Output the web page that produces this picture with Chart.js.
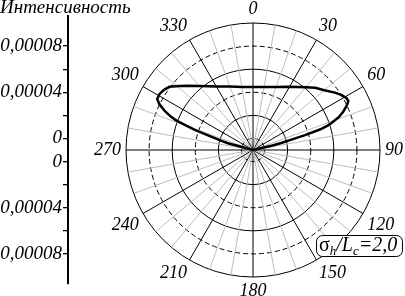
<!DOCTYPE html>
<html><head><meta charset="utf-8">
<style>html,body{margin:0;padding:0;background:#fff;}canvas{display:block;}</style>
</head><body>
<canvas id="c" width="405" height="296"></canvas>
<script src="https://cdn.jsdelivr.net/npm/chart.js@4/dist/chart.umd.min.js"></script>
<script>
// ---------------- data ----------------
const titleText = 'Интенсивность';
const angleTickValues = [0, 30, 60, 90, 120, 150, 180, 210, 240, 270, 300, 330];
const angleTickLabels = ['0', '30', '60', '90', '120', '150', '180', '210', '240', '270', '300', '330'];
// lobe: angle (deg, clockwise from top) and intensity
const lobeAngles = [0, 10, 20, 30, 40, 45, 50, 55, 58, 61, 63, 65, 67, 69, 71, 72, 73, 74, 75, 76, 77, 85,
                    276, 285, 286, 287, 288, 289, 290, 291, 292, 294, 296, 298, 301, 304, 307, 311, 315, 320, 330, 340, 350];
const lobeValues = [4.46e-5, 4.54e-5, 4.80e-5, 5.32e-5, 6.10e-5, 6.62e-5, 7.06e-5, 7.66e-5, 8.01e-5, 8.27e-5, 8.27e-5,
                    7.92e-5, 7.49e-5, 6.97e-5, 6.19e-5, 5.76e-5, 5.06e-5, 3.68e-5, 2.38e-5, 1.51e-5, 0.73e-5, -1.0e-5,
                    -1.0e-5, 1.25e-5, 1.77e-5, 2.29e-5, 2.98e-5, 4.28e-5, 5.15e-5, 6.10e-5, 6.62e-5, 7.40e-5, 8.01e-5,
                    8.40e-5, 8.44e-5, 8.31e-5, 8.09e-5, 7.44e-5, 6.88e-5, 6.23e-5, 5.35e-5, 4.85e-5, 4.54e-5];
const rMin = -0.00001, rMax = 0.0001;
const ringValues = [0, 0.00002, 0.00004, 0.00006, 0.00008, 0.0001];
const ringDashed = [true, false, true, false, true, false];
const axisValues = [0, 0.00002, 0.00004, 0.00006, 0.00008];
const axisLabels = ['0', '', '0,00004', '', '0,00008'];
const axisExtent = 0.000116;
const noteParts = ['σ', 'h', '/L', 'c', '=2,0'];

// ---------------- derived tables ----------------
const labels = [];
const radarData = [];
for (let a = 0; a < 360; a++) {
  const k = angleTickValues.indexOf(a);
  labels.push(k >= 0 ? angleTickLabels[k] : '');
  const j = lobeAngles.indexOf(a);
  radarData.push(j >= 0 ? lobeValues[j] : null);
}
// left axis: upper half (+) and lower half (-) of the radial coordinate
const yTicks = [];
for (let i = axisValues.length - 1; i >= 0; i--) yTicks.push({u: -(axisValues[i] - rMin), text: axisLabels[i]});
for (let i = 0; i < axisValues.length; i++) yTicks.push({u: axisValues[i] - rMin, text: axisLabels[i]});

const SERIF = '"Liberation Serif", "Times New Roman", serif';

const alignAxis = {
  id: 'alignAxis',
  afterLayout(chart) {
    const r = chart.scales.r, y = chart.scales.y;
    const half = r.drawingArea * axisExtent / (rMax - rMin);
    y.top = r.yCenter - half;
    y.bottom = r.yCenter + half;
    y.height = 2 * half;
    y.configure();
  }
};

const notes = {
  id: 'notes',
  afterDraw(chart) {
    const ctx = chart.ctx;
    ctx.save();
    ctx.fillStyle = '#000';
    ctx.textAlign = 'left';
    ctx.textBaseline = 'alphabetic';
    ctx.font = 'italic 19px ' + SERIF;
    ctx.fillText(titleText, 0, 13);
    // annotation box
    const bx = 316.5, by = 235.5, bw = 86, bh = 21, rr = 6;
    ctx.beginPath();
    ctx.moveTo(bx + rr, by);
    ctx.arcTo(bx + bw, by, bx + bw, by + bh, rr);
    ctx.arcTo(bx + bw, by + bh, bx, by + bh, rr);
    ctx.arcTo(bx, by + bh, bx, by, rr);
    ctx.arcTo(bx, by, bx + bw, by, rr);
    ctx.closePath();
    ctx.fillStyle = '#fff';
    ctx.fill();
    ctx.lineWidth = 1;
    ctx.strokeStyle = '#000';
    ctx.stroke();
    ctx.fillStyle = '#000';
    const fonts = ['20px ' + SERIF, 'italic 13px ' + SERIF, 'italic 20px ' + SERIF, 'italic 13px ' + SERIF, 'italic 20px ' + SERIF];
    const dys = [0, 4, 0, 4, 0];
    let x = 319;
    noteParts.forEach((t, i) => {
      ctx.font = fonts[i];
      ctx.fillText(t, x, 251 + dys[i]);
      x += ctx.measureText(t).width;
    });
    ctx.restore();
  }
};

new Chart(document.getElementById('c'), {
  type: 'radar',
  data: {
    labels: labels,
    datasets: [{
      data: radarData,
      borderColor: '#000',
      borderWidth: 2.5,
      pointRadius: 0,
      pointHoverRadius: 0,
      fill: false,
      spanGaps: true,
      tension: 0,
      borderJoinStyle: 'round'
    }]
  },
  options: {
    responsive: false,
    animation: false,
    devicePixelRatio: 1,
    events: [],
    layout: {padding: 0},
    plugins: {legend: {display: false}, tooltip: {enabled: false}},
    scales: {
      r: {
        min: rMin,
        max: rMax,
        startAngle: 0,
        afterSetDimensions(s) {
          s.right += 33;
          s.bottom += 4;
          const w = s.width = s.right - s.left;
          const h = s.height = s.bottom - s.top;
          s.xCenter = Math.floor(s.left + w / 2);
          s.yCenter = Math.floor(s.top + h / 2);
          s.drawingArea = Math.floor(Math.min(w, h) / 2);
        },
        afterBuildTicks(s) { s.ticks = ringValues.map(v => ({value: v})); },
        ticks: {display: false},
        grid: {circular: true, color: '#000', lineWidth: 1},
        border: {dash: (c) => ringDashed[c.index] ? [5, 3] : []},
        angleLines: {
          display: true,
          color: (c) => c.index % 30 === 0 ? '#000' : (c.index % 10 === 0 ? '#bdbdbd' : 'rgba(0,0,0,0)'),
          lineWidth: (c) => c.index % 10 === 0 ? 1 : 0
        },
        pointLabels: {
          display: true,
          padding: 5,
          color: '#000',
          font: {family: SERIF, size: 18, style: 'italic', lineHeight: 1}
        }
      },
      y: {
        type: 'linear',
        position: 'left',
        min: -axisExtent,
        max: axisExtent,
        afterBuildTicks(s) { s.ticks = yTicks.map(t => ({value: t.u})); },
        afterFit(s) { s.width = 68; s.paddingTop = 0; s.paddingBottom = 0; },
        ticks: {
          autoSkip: false,
          padding: 1,
          color: '#000',
          font: {family: SERIF, size: 19, style: 'italic'},
          callback: (v, i) => yTicks[i].text
        },
        grid: {drawOnChartArea: false, drawTicks: true, tickLength: 5, color: '#000', lineWidth: 1.3},
        border: {display: true, color: '#000', width: 2}
      }
    }
  },
  plugins: [alignAxis, notes]
});
</script>
</body></html>
